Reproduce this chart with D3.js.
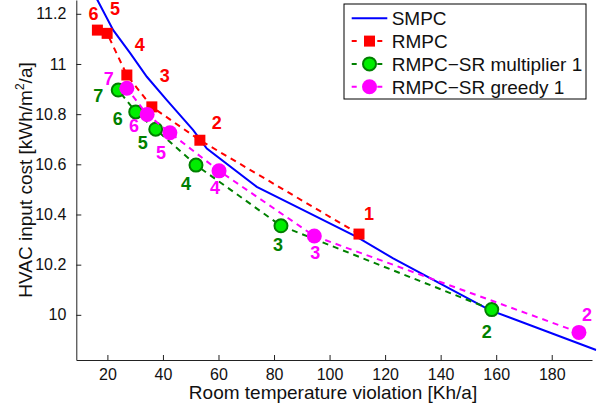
<!DOCTYPE html>
<html>
<head>
<meta charset="utf-8">
<script src="https://cdn.jsdelivr.net/npm/d3@7"></script>
<style>
  body { margin: 0; background: #fff; }
  text { font-family: "Liberation Sans", Arial, sans-serif; }
</style>
</head>
<body>
<svg id="mysvg" width="597" height="413"></svg>
<script>
// data
var smpcX = [15, 16.4, 22.1, 28.2, 34.2, 41.4, 50.9, 55.8, 73.8, 89.3, 109.8, 122.9, 157.7, 196];
var smpcY = [11.29, 11.255, 11.135, 11.043, 10.949, 10.856, 10.736, 10.663, 10.51, 10.424, 10.311, 10.225, 10.019, 9.86];

var rmpcX = [110.6, 53.3, 36.0, 27.0, 19.9, 16.4];
var rmpcY = [10.322, 10.696, 10.829, 10.956, 11.122, 11.135];
var rmpcLabels = ["1", "2", "3", "4", "5", "6"];

var multX = [158.4, 82.5, 51.9, 37.4, 30.2, 23.9];
var multY = [10.021, 10.355, 10.597, 10.740, 10.809, 10.896];
var multLabels = ["2", "3", "4", "5", "6", "7"];

var greedyX = [189.8, 94.5, 60.2, 42.5, 34.3, 27.0];
var greedyY = [9.930, 10.314, 10.574, 10.726, 10.799, 10.903];
var greedyLabels = ["2", "3", "4", "5", "6", "7"];

var xTicks = [20, 40, 60, 80, 100, 120, 140, 160, 180];
var yTicks = [10, 10.2, 10.4, 10.6, 10.8, 11, 11.2];

var legendNames = ["SMPC", "RMPC", "RMPC\u2212SR multiplier 1", "RMPC\u2212SR greedy 1"];

// label offsets (pixels, from marker centre to text baseline centre)
var rmpcOff = [[10, -14], [17, -11], [13, -25], [13, -24], [8, -18], [-4, -10]];
var multOff = [[-5, 28], [-3, 25], [-10, 25], [-13, 20], [-18, 13], [-20, 12]];
var greedyOff = [[8, -11], [1, 23], [-4, 23], [-9, 26], [-13, 18], [-18, -3]];

var svg = d3.select("#mysvg");

var x = d3.scaleLinear().domain([8.8, 194.5]).range([76.3, 592]);
var y = d3.scaleLinear().domain([9.82, 11.255]).range([360, 0]);

svg.append("clipPath").attr("id", "clip")
    .append("rect").attr("x", 76.3).attr("y", 0).attr("width", 520).attr("height", 360);

var plot = svg.append("g").attr("clip-path", "url(#clip)");

function zip(xs, ys) {
    return xs.map(function(d, i) { return {x: d, y: ys[i]}; });
}

var line = d3.line()
    .x(function(d) { return x(d.x); })
    .y(function(d) { return y(d.y); });

// SMPC
plot.append("path")
    .attr("d", line(zip(smpcX, smpcY)))
    .attr("fill", "none")
    .attr("stroke", "#0000ff")
    .attr("stroke-width", 2);

var series = [
    {xs: rmpcX, ys: rmpcY, labels: rmpcLabels, off: rmpcOff, color: "#ff0000", shape: "square"},
    {xs: multX, ys: multY, labels: multLabels, off: multOff, color: "#008000", fill: "#00ee00", shape: "circle", r: 6.5},
    {xs: greedyX, ys: greedyY, labels: greedyLabels, off: greedyOff, color: "#ff00ff", fill: "#ff00ff", shape: "circle", r: 7.5}
];

function drawMarker(g, s, px, py) {
    if (s.shape == "square") {
        g.append("rect")
            .attr("x", px - 5.5).attr("y", py - 5.5)
            .attr("width", 11).attr("height", 11)
            .attr("fill", s.color);
    } else {
        g.append("circle")
            .attr("cx", px).attr("cy", py)
            .attr("r", s.r)
            .attr("fill", s.fill)
            .attr("stroke", s.fill == s.color ? "none" : s.color)
            .attr("stroke-width", 2);
    }
}

series.forEach(function(s) {
    var pts = zip(s.xs, s.ys);
    plot.append("path")
        .attr("d", line(pts))
        .attr("fill", "none")
        .attr("stroke", s.color)
        .attr("stroke-width", 2)
        .attr("stroke-dasharray", "6,5");
    pts.forEach(function(d) {
        drawMarker(plot, s, x(d.x), y(d.y));
    });
});

// point labels
series.forEach(function(s) {
    zip(s.xs, s.ys).forEach(function(d, i) {
        svg.append("text")
            .attr("x", x(d.x) + s.off[i][0])
            .attr("y", y(d.y) + s.off[i][1])
            .attr("text-anchor", "middle")
            .attr("font-size", 18)
            .attr("font-weight", "bold")
            .attr("fill", s.color)
            .text(s.labels[i]);
    });
});

// axes
var xAxis = d3.axisBottom(x).tickValues(xTicks).tickSizeInner(-5).tickSizeOuter(0).tickPadding(9);
var yAxis = d3.axisLeft(y).tickValues(yTicks).tickSizeInner(-5).tickSizeOuter(0).tickPadding(10)
    .tickFormat(function(d) { return d3.format("")(+d.toFixed(1)); });

var gx = svg.append("g").attr("transform", "translate(0,360)").call(xAxis);
var gy = svg.append("g").attr("transform", "translate(76.3,0)").call(yAxis);

[gx, gy].forEach(function(g) {
    g.select(".domain").attr("stroke", "#222").attr("stroke-width", 1);
    g.selectAll(".tick line").attr("stroke", "#222");
    g.selectAll(".tick text")
        .attr("font-size", 16)
        .attr("font-family", "Liberation Sans, Arial, sans-serif")
        .attr("fill", "#111");
});

svg.append("text")
    .attr("x", 333).attr("y", 399)
    .attr("text-anchor", "middle")
    .attr("font-size", 19)
    .attr("fill", "#111")
    .text("Room temperature violation [Kh/a]");

var ylab = svg.append("text")
    .attr("transform", "translate(32,180) rotate(-90)")
    .attr("text-anchor", "middle")
    .attr("font-size", 19)
    .attr("fill", "#111");
ylab.append("tspan").text("HVAC input cost [kWh/m");
ylab.append("tspan").attr("font-size", 12).attr("dy", -8).text("2");
ylab.append("tspan").attr("dy", 8).text("/a]");

// legend
var legend = svg.append("g");
legend.append("rect")
    .attr("x", 344).attr("y", 4)
    .attr("width", 242).attr("height", 95)
    .attr("fill", "#fff")
    .attr("stroke", "#000")
    .attr("stroke-width", 1);

var legendStyles = [
    {color: "#0000ff"},
    series[0], series[1], series[2]
];

legendNames.forEach(function(name, i) {
    var ly = 18.3 + i * 22.8;
    var st = legendStyles[i];
    legend.append("line")
        .attr("x1", 351.7).attr("x2", 387.3)
        .attr("y1", ly).attr("y2", ly)
        .attr("stroke", st.color)
        .attr("stroke-width", 2)
        .attr("stroke-dasharray", i == 0 ? null : "5,7.8");
    if (i > 0) drawMarker(legend, st, 369.5, ly);
    legend.append("text")
        .attr("x", 391.7).attr("y", ly + 7)
        .attr("font-size", 19)
        .attr("fill", "#111")
        .text(name);
});
</script>
</body>
</html>
